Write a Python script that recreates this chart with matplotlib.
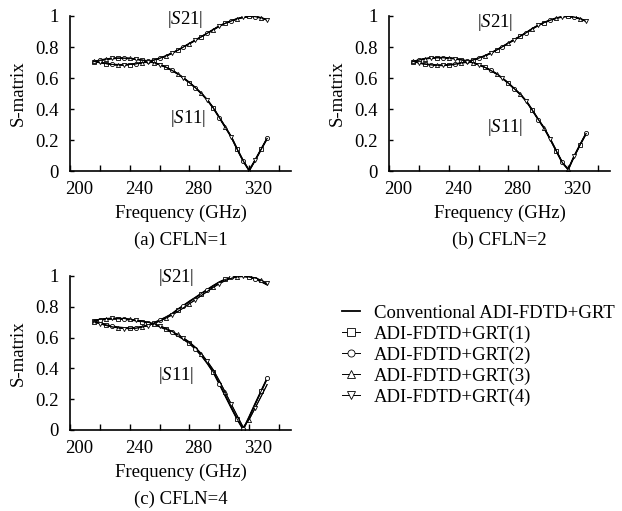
import numpy as np
import matplotlib
matplotlib.use('Agg')
import matplotlib.pyplot as plt
import matplotlib.transforms as mtransforms

plt.rcParams['font.family'] = ['Liberation Serif', 'DejaVu Serif']
plt.rcParams['mathtext.fontset'] = 'custom'
plt.rcParams['mathtext.rm'] = 'Liberation Serif'
plt.rcParams['mathtext.it'] = 'Liberation Serif:italic'
plt.rcParams['font.size'] = 13.5

# 数据（GHz）
freq = [216, 220, 224, 228, 232, 236, 240, 244, 248, 252, 256, 260, 264, 268, 272,
        276, 280, 284, 288, 292, 296, 300, 304, 308, 312, 316, 320, 324, 328, 332]

# (a) CFLN=1
s11_a = [.705, .714, .721, .726, .728, .728, .726, .722, .716, .709, .699, .687, .671, .651, .628,
         .600, .570, .537, .500, .458, .406, .345, .283, .220, .140, .065, .003, .070, .140, .210]
s21_a = [.709, .700, .693, .688, .685, .685, .687, .691, .698, .705, .715, .727, .741, .759, .778,
         .800, .822, .844, .866, .889, .912, .935, .953, .968, .982, .992, .997, .996, .988, .975]

# (b) CFLN=2
s11_b = [.705, .716, .724, .729, .731, .731, .729, .725, .718, .710, .699, .686, .670, .650, .627,
         .598, .566, .530, .494, .450, .392, .332, .275, .205, .130, .055, .010, .095, .170, .242]
s21_b = [.709, .698, .690, .685, .682, .682, .684, .689, .696, .704, .715, .728, .742, .760, .780,
         .802, .825, .848, .870, .893, .918, .940, .958, .973, .986, .995, .998, .993, .982, .967]

# (c) CFLN=4
s11_c = [.708, .715, .720, .722, .722, .720, .716, .711, .704, .697, .686, .672, .655, .635, .614,
         .590, .562, .527, .484, .433, .375, .300, .222, .145, .070, .004, .085, .170, .252, .335]
s21_c = [.706, .695, .684, .674, .667, .663, .662, .664, .670, .680, .695, .712, .731, .752, .782,
         .808, .835, .860, .886, .912, .937, .960, .978, .991, .998, .998, .993, .982, .964, .944]
s11_c_grt = [.712, .719, .724, .726, .726, .724, .720, .715, .708, .700, .690, .677, .661, .642, .621,
             .598, .571, .537, .495, .446, .390, .320, .245, .168, .092, .018, .068, .143, .218, .295]
s21_c_grt = [.702, .690, .679, .670, .663, .659, .658, .661, .667, .677, .691, .707, .725, .745, .768,
             .793, .820, .846, .873, .900, .926, .950, .970, .985, .994, .998, .996, .988, .973, .953]

methods = ['ADI-FDTD+GRT(1)', 'ADI-FDTD+GRT(2)', 'ADI-FDTD+GRT(3)', 'ADI-FDTD+GRT(4)']
markers = ['s', 'o', '^', 'v']

panels = [
    dict(pos=[70, 171, 221, 155], cap='(a) CFLN=1', s11=s11_a, s21=s21_a,
         grt=[(s11_a, s21_a)] * 4, t21=(277, 0.975), t11=(279, 0.34)),
    dict(pos=[389, 171, 221, 155], cap='(b) CFLN=2', s11=s11_b, s21=s21_b,
         grt=[(s11_b, s21_b)] * 4, t21=(271, 0.955), t11=(278, 0.28)),
    dict(pos=[70, 430, 221, 154], cap='(c) CFLN=4', s11=s11_c, s21=s21_c,
         grt=[(s11_c, s21_c), (s11_c, s21_c), (s11_c_grt, s21_c_grt), (s11_c_grt, s21_c_grt)],
         t21=(271, 0.99), t11=(271, 0.355)),
]

W, H = 622, 511
fig = plt.figure(figsize=(W / 100, H / 100), dpi=100)

handles = []
for p in panels:
    l, b, w, h = p['pos']
    ax = fig.add_axes([l / W, 1 - b / H, w / W, h / H])
    c, = ax.plot(freq, p['s11'], color='black', lw=1.3)
    ax.plot(freq, p['s21'], color='black', lw=1.3)
    hs = [c]
    for k, (m, (y11, y21)) in enumerate(zip(markers, p['grt'])):
        hh, = ax.plot(freq, y11, color='black', lw=0.7, marker=m, ms=3, mfc='white',
                      mew=0.6, markevery=(k, 4))
        ax.plot(freq, y21, color='black', lw=0.7, marker=m, ms=3, mfc='white',
                mew=0.6, markevery=((k + 2) % 4, 4))
        hs.append(hh)
    handles = hs

    ax.set_xlim(200, 348)
    ax.set_ylim(0, 1)
    ax.set_xticks(range(200, 341, 20))
    ax.set_xticklabels(['200', '', '240', '', '280', '', '320', ''])
    ax.set_yticks([0, 0.2, 0.4, 0.6, 0.8, 1])
    ax.set_yticklabels(['0', '0.2', '0.4', '0.6', '0.8', '1'])
    ax.tick_params(axis='x', direction='in', length=4, width=1, pad=7)
    ax.tick_params(axis='y', direction='in', length=3, width=1, pad=8)
    off = mtransforms.ScaledTranslation(9 / 100, 0, fig.dpi_scale_trans)
    for lab in ax.get_xticklabels():
        lab.set_transform(lab.get_transform() + off)
    for s in ['top', 'right']:
        ax.spines[s].set_visible(False)
    for s in ['left', 'bottom']:
        ax.spines[s].set_linewidth(1.2)

    ax.annotate('Frequency (GHz)', xy=(0.5, 0), xycoords='axes fraction',
                xytext=(0, -42), textcoords='offset pixels', ha='center', va='center')
    ax.annotate(p['cap'], xy=(0.5, 0), xycoords='axes fraction',
                xytext=(0, -69), textcoords='offset pixels', ha='center', va='center')
    ax.annotate('S-matrix', xy=(0, 0.5), xycoords='axes fraction',
                xytext=(-52, 0), textcoords='offset pixels', ha='center', va='center',
                rotation=90)
    ax.text(p['t21'][0], p['t21'][1], r'|$\mathit{S}$21|', ha='center', va='center')
    ax.text(p['t11'][0], p['t11'][1], r'|$\mathit{S}$11|', ha='center', va='center')

fig.legend(handles, ['Conventional ADI-FDTD+GRT'] + methods, loc='upper left',
           bbox_to_anchor=(334 / W, 1 - 297 / H), frameon=False, handlelength=1.0,
           handletextpad=0.75, labelspacing=0.2, markerscale=1.7, borderpad=0.4,
           borderaxespad=0)

fig.savefig('out.png', dpi=100, facecolor='white')
